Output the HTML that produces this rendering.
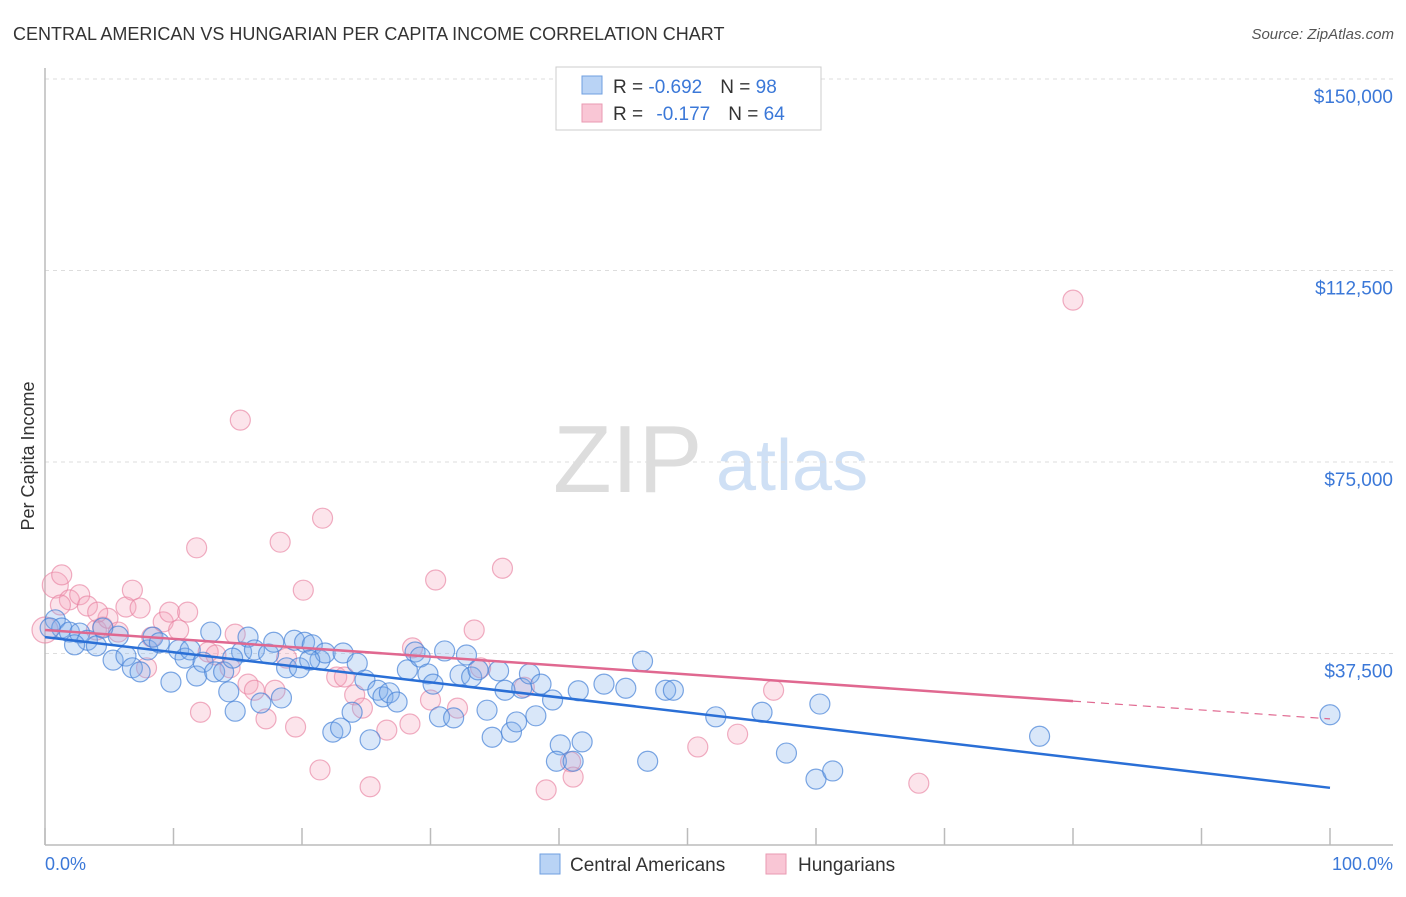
<!DOCTYPE html>
<html><head><meta charset="utf-8"><style>
body{margin:0;background:#fff;font-family:"Liberation Sans",sans-serif;}
svg text{font-family:"Liberation Sans",sans-serif;}
</style></head><body>
<svg id="chart" width="1406" height="892" viewBox="0 0 1406 892" xmlns="http://www.w3.org/2000/svg">
<text x="13" y="40" font-size="18" fill="#333">CENTRAL AMERICAN VS HUNGARIAN PER CAPITA INCOME CORRELATION CHART</text>
<text x="1394" y="39" font-size="15" fill="#555" font-style="italic" text-anchor="end">Source: ZipAtlas.com</text>
<g>
<text x="553" y="492" font-size="96" fill="#ddd" font-family="Liberation Serif, serif">ZIP</text>
<text x="716" y="490" font-size="72" fill="#cfe0f5">atlas</text>
</g>
<g id="grid"></g>
<line x1="45" y1="68" x2="45" y2="845" stroke="#bbb" stroke-width="1.5"/>
<line x1="45" y1="845" x2="1393" y2="845" stroke="#bbb" stroke-width="1.5"/>
<g id="xticks"></g>
<g id="ylabels"></g>
<text transform="translate(34,456) rotate(-90)" font-size="18" fill="#333" text-anchor="middle">Per Capita Income</text>
<text x="45" y="870" font-size="18" fill="#3b78d8">0.0%</text>
<text x="1393" y="870" font-size="18" fill="#3b78d8" text-anchor="end">100.0%</text>
<g id="pink"></g>
<g id="blue"></g>
<g id="lines"></g>
<g>
<rect x="556" y="67" width="265" height="63" fill="#fff" stroke="#ccc"/>
<rect x="582" y="76" width="20" height="18" fill="#b9d3f5" stroke="#6f9fe0"/>
<rect x="582" y="104" width="20" height="18" fill="#f9c6d5" stroke="#e99ab2"/>
<text x="613" y="93" font-size="19" fill="#333">R = <tspan fill="#3b78d8">-0.692</tspan><tspan dx="18">N = </tspan><tspan fill="#3b78d8">98</tspan></text>
<text x="613" y="120" font-size="19" fill="#333">R = <tspan dx="8" fill="#3b78d8">-0.177</tspan><tspan dx="18">N = </tspan><tspan fill="#3b78d8">64</tspan></text>
</g>
<g>
<rect x="540" y="854" width="20" height="20" fill="#b9d3f5" stroke="#6f9fe0"/>
<text x="570" y="871" font-size="19" fill="#333">Central Americans</text>
<rect x="766" y="854" width="20" height="20" fill="#f9c6d5" stroke="#e99ab2"/>
<text x="798" y="871" font-size="19" fill="#333">Hungarians</text>
</g>
</svg>
<script>
const yTicks=[37500,75000,112500,150000];
const yTickLabels=["$37,500","$75,000","$112,500","$150,000"];
const xTicks=[0,10,20,30,40,50,60,70,80,90,100];
const blueX=[0.8,1.3,1.9,2.7,3.3,4.0,4.5,5.3,5.7,6.3,6.8,7.4,8.0,8.4,8.9,9.8,10.4,10.9,11.3,11.8,12.3,12.9,13.2,13.9,14.3,14.8,15.3,15.8,16.3,16.8,17.4,17.8,18.4,18.8,19.4,19.8,20.2,20.8,21.4,21.8,22.4,23.0,23.2,23.9,24.3,24.9,25.3,25.9,26.3,26.8,27.4,28.2,28.8,29.2,29.8,30.2,30.7,31.1,31.8,32.3,32.8,33.2,33.7,34.4,34.8,35.3,35.8,36.3,36.7,37.1,37.7,38.2,38.6,39.5,40.1,39.8,41.1,41.5,41.8,43.5,45.2,46.5,46.9,48.3,48.9,52.2,55.8,57.7,60.0,60.3,61.3,77.4,100,14.6,20.6,0.4,2.3];
const blueY=[44.1,42.5,41.7,41.5,40.1,39.0,42.5,36.2,40.9,37.0,34.7,33.9,38.2,40.7,39.6,31.9,38.2,36.6,38.2,33.1,35.8,41.7,33.9,33.9,30.0,26.2,37.8,40.7,38.2,27.8,37.4,39.7,28.8,34.7,40.1,34.7,39.7,39.2,36.2,37.6,22.1,22.9,37.6,26.0,35.6,32.3,20.6,30.3,29.0,29.8,28.0,34.3,37.8,36.8,33.5,31.5,25.1,38.0,24.9,33.3,37.2,32.9,34.3,26.4,21.1,34.1,30.3,22.1,24.1,30.7,33.5,25.3,31.5,28.4,19.6,16.4,16.4,30.2,20.2,31.5,30.7,36.0,16.4,30.3,30.3,25.1,26.0,18.0,12.9,27.6,14.5,21.3,25.5,36.6,36.2,42.5,39.2];
const pinkX=[0,0.8,1.3,1.9,2.7,3.3,4.0,4.5,4.9,5.7,6.3,6.8,7.4,7.9,8.3,9.2,9.7,10.4,11.1,11.8,12.1,12.7,13.3,14.4,14.8,15.2,15.8,16.3,17.2,17.9,18.3,18.8,19.5,20.1,21.4,21.6,22.7,23.3,24.1,24.7,25.3,26.6,28.4,28.6,30.0,30.4,32.1,33.4,33.9,35.6,37.3,39.0,40.9,41.1,50.8,53.9,56.7,68.0,80.0,4.1,1.2];
const pinkY=[42.1,50.9,52.9,48.0,49.0,46.8,42.1,42.7,44.4,41.7,46.6,49.9,46.4,34.7,40.7,43.7,45.6,42.1,45.6,58.2,26.0,37.8,37.2,34.7,41.3,83.2,31.5,30.3,24.7,30.3,59.3,36.6,23.1,49.9,14.7,64.0,32.9,32.9,29.4,26.8,11.4,22.5,23.7,38.6,28.4,51.9,26.8,42.1,34.7,54.2,30.9,10.8,16.3,13.3,19.2,21.7,30.3,12.1,106.7,45.6,47.0];
const blueTrend=[40.7,11.2];
const pinkTrend=[42.1,24.7];
const pinkSolidEnd=80;
const NS="http://www.w3.org/2000/svg";
const xs=v=>45+v*12.85;
const ys=k=>845-k*1000/37500*191.5;
function mk(tag,attrs,parent){const e=document.createElementNS(NS,tag);for(const a in attrs)e.setAttribute(a,attrs[a]);parent.appendChild(e);return e;}
const grid=document.getElementById('grid'),yl=document.getElementById('ylabels'),xt=document.getElementById('xticks');
yTicks.forEach((t,i)=>{const y=ys(t/1000);
const l=mk('line',{x1:45,x2:1393,y1:y,y2:y,stroke:'#ddd','stroke-dasharray':'4,4'},grid);


const tx=mk('text',{x:1393,y:y+24,'font-size':19,fill:'#3b78d8','text-anchor':'end'},yl);
tx.textContent=yTickLabels[i];

});
xTicks.forEach(t=>{const x=xs(t);const l=mk('line',{x1:x,x2:x,y1:828,y2:845,stroke:'#bbb','stroke-width':1.5},xt);

});
function pts(X,Y,g,fill,stroke,name){X.forEach((x,i)=>{const r=(i<2&&name==='hungarian-point')?13:10;
const c=mk('circle',{cx:xs(x),cy:ys(Y[i]),r:r,fill:fill,stroke:stroke,'stroke-width':1.2},g);

});}
pts(pinkX,pinkY,document.getElementById('pink'),'rgba(246,165,190,0.3)','rgba(232,130,162,0.65)','hungarian-point');
pts(blueX,blueY,document.getElementById('blue'),'rgba(130,175,235,0.3)','rgba(70,130,215,0.7)','central-american-point');
const lg=document.getElementById('lines');
const bl=mk('line',{x1:xs(0),y1:ys(blueTrend[0]),x2:xs(100),y2:ys(blueTrend[1]),stroke:'#2a6fd6','stroke-width':2.5},lg);


const pe=pinkTrend[0]+(pinkTrend[1]-pinkTrend[0])*pinkSolidEnd/100;
const pl=mk('line',{x1:xs(0),y1:ys(pinkTrend[0]),x2:xs(pinkSolidEnd),y2:ys(pe),stroke:'#e06890','stroke-width':2.5},lg);


const pd=mk('line',{x1:xs(pinkSolidEnd),y1:ys(pe),x2:xs(100),y2:ys(pinkTrend[1]),stroke:'#e06890','stroke-width':1.2,'stroke-dasharray':'8,6'},lg);


</script>
</body></html>
